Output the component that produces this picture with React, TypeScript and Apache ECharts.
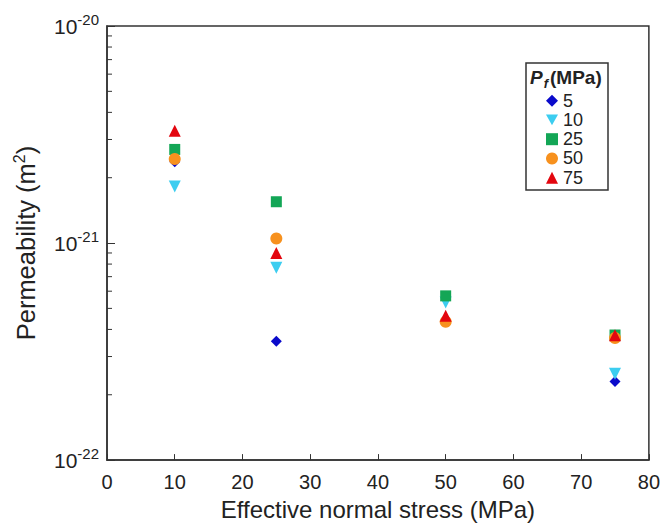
import React, { useEffect, useRef } from "react";
import * as echarts from "echarts";

const stress = [10, 25, 50, 75];
const seriesNames = ["5", "10", "25", "50", "75"];
const perm5 = [2.37e-21, 3.53e-22, 4.35e-22, 2.3e-22];
const perm10 = [1.82e-21, 7.7e-22, 5.32e-22, 2.5e-22];
const perm25 = [2.7e-21, 1.55e-21, 5.71e-22, 3.77e-22];
const perm50 = [2.44e-21, 1.05e-21, 4.34e-22, 3.65e-22];
const perm75 = [3.29e-21, 9.0e-22, 4.63e-22, 3.76e-22];
const xTicks = [0, 10, 20, 30, 40, 50, 60, 70, 80];
const yMinorTicks = [
  2e-22, 3e-22, 4e-22, 5e-22, 6e-22, 7e-22, 8e-22, 9e-22,
  2e-21, 3e-21, 4e-21, 5e-21, 6e-21, 7e-21, 8e-21, 9e-21,
];
// the log axis works in units of 1e-22 m² (ECharts rounds tiny numbers to 0)
const UNIT_EXP = -22;
const UNIT = 1e-22;

const colors = ["#0a0acb", "#3ccdf0", "#13a656", "#f7911e", "#e3060f"];
const symbols = ["diamond", "triangle", "rect", "circle", "triangle"];
const rotations = [0, 180, 0, 0, 0];
const sizes = [11, 12, 11, 12, 12];
const legendIcons = [
  "diamond",
  "path://M0,0 L10,0 L5,9 Z",
  "rect",
  "circle",
  "triangle",
];

const FONT = "Liberation Sans, Arial, sans-serif";

export default function App() {
  const ref = useRef<HTMLDivElement>(null);
  useEffect(() => {
    if (!ref.current) return;
    const chart = echarts.init(ref.current, null, { renderer: "svg" });
    const allData = [perm5, perm10, perm25, perm50, perm75];
    const scatter = seriesNames.map((name, i) => ({
      name,
      type: "scatter",
      symbol: symbols[i],
      symbolRotate: rotations[i],
      symbolSize: sizes[i],
      itemStyle: { color: colors[i], opacity: 1 },
      data: stress.map((x, j) => [x, allData[i][j] / UNIT]),
      z: 3 + i,
    }));
    chart.setOption({
      animation: false,
      textStyle: { fontFamily: FONT },
      grid: {
        left: 107,
        right: 10,
        top: 26,
        bottom: 62,
        show: true,
        borderColor: "#333",
        borderWidth: 1.5,
      },
      legend: {
        data: seriesNames.map((n, i) => ({ name: n, icon: legendIcons[i] })),
        orient: "vertical",
        left: 546,
        top: 91.7,
        padding: 0,
        itemWidth: 12,
        itemHeight: 12,
        itemGap: 1.25,
        textStyle: { fontSize: 18, lineHeight: 18, color: "#222", fontFamily: FONT },
      },
      graphic: [
        {
          type: "rect",
          shape: { x: 526, y: 63, width: 82, height: 127 },
          style: { fill: "none", stroke: "#333", lineWidth: 1.5 },
        },
        {
          type: "text",
          left: 530,
          top: 68,
          style: {
            text: "{p|P}{f|f}{m|(MPa)}",
            fontFamily: FONT,
            rich: {
              p: { fontSize: 19, fontStyle: "italic", fontWeight: "bold", fill: "#222", fontFamily: FONT },
              f: { fontSize: 13, fontStyle: "italic", fontWeight: "bold", fill: "#222", padding: [12, 2, 0, 1], fontFamily: FONT },
              m: { fontSize: 19, fontWeight: "bold", fill: "#222", fontFamily: FONT },
            },
          },
        },
      ],
      xAxis: {
        type: "value",
        min: 0,
        max: 80,
        interval: 10,
        name: "Effective normal stress (MPa)",
        nameLocation: "middle",
        nameGap: 34,
        nameTextStyle: { fontSize: 24, color: "#222", fontFamily: FONT },
        axisLine: { show: true, lineStyle: { color: "#333", width: 1.5 } },
        axisTick: { show: true, inside: true, length: 6, lineStyle: { color: "#333" } },
        axisLabel: {
          fontSize: 20,
          color: "#222",
          margin: 12,
          fontFamily: FONT,
          formatter: (v: number) => (xTicks.includes(v) ? String(v) : ""),
        },
        splitLine: { show: false },
      },
      yAxis: {
        type: "log",
        logBase: 10,
        min: 1,
        max: 100,
        name: "{n|Permeability (m}{s|2}{n|)}",
        nameLocation: "middle",
        nameGap: 67,
        nameTextStyle: {
          color: "#222",
          fontFamily: FONT,
          rich: {
            n: { fontSize: 25.5, color: "#222", fontFamily: FONT },
            s: { fontSize: 16, color: "#222", fontFamily: FONT, padding: [0, 0, 13, 0] },
          },
        },
        axisLine: { show: true, lineStyle: { color: "#333", width: 1.5 } },
        axisTick: { show: true, inside: true, length: 8, lineStyle: { color: "#333" } },
        axisLabel: {
          margin: 8,
          color: "#222",
          fontFamily: FONT,
          formatter: (v: number) => {
            const e = Math.round(Math.log10(v)) + UNIT_EXP;
            return "{b|10}{s|" + e + "}";
          },
          rich: {
            b: { fontSize: 21, color: "#222", fontFamily: FONT },
            s: { fontSize: 15, color: "#222", fontFamily: FONT, padding: [0, 0, 13, 0] },
          },
        },
        splitLine: { show: false },
      },
      series: [
        ...scatter,
        {
          type: "custom",
          name: "minor",
          silent: true,
          data: yMinorTicks.map((v) => [0, v / UNIT]),
          renderItem: (params: any, api: any) => {
            const p = api.coord([api.value(0), api.value(1)]);
            return {
              type: "line",
              shape: { x1: p[0], y1: p[1], x2: p[0] + 5, y2: p[1] },
              style: { stroke: "#333", lineWidth: 1 },
            };
          },
          z: 1,
        },
      ],
    });
    return () => chart.dispose();
  }, []);
  return (
    <div
      ref={ref}
      style={{ position: "fixed", left: 0, top: 0, width: 663, height: 526, overflow: "hidden", background: "#fff" }}
    />
  );
}
